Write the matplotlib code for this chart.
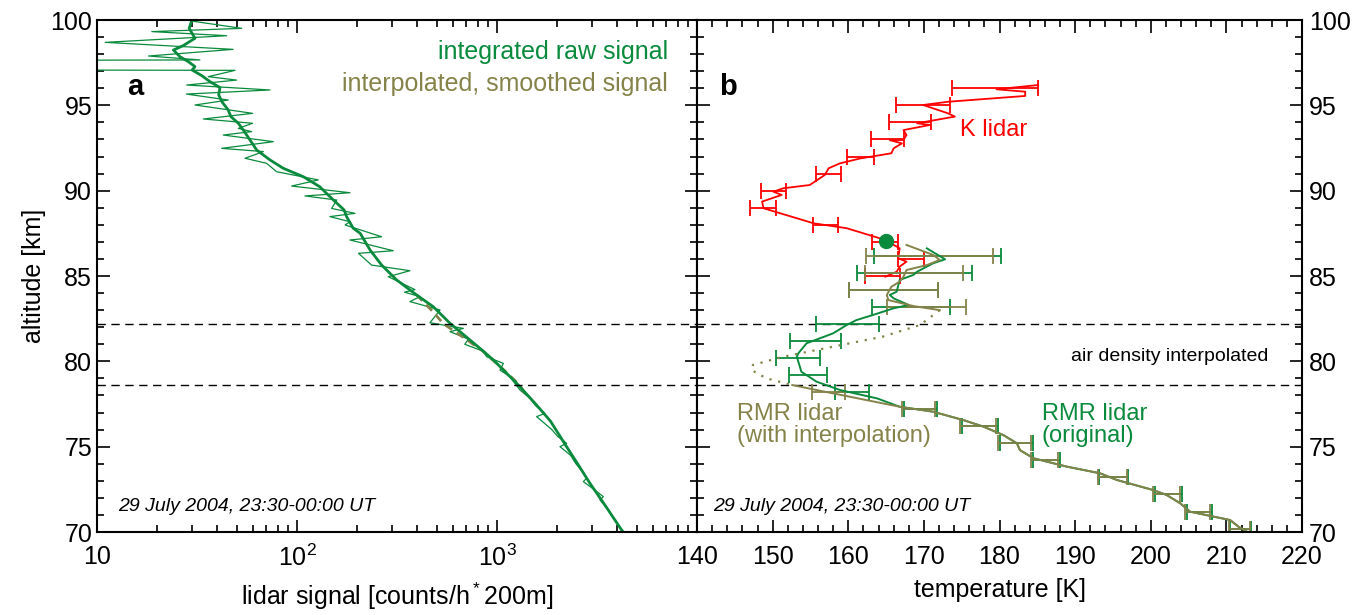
import matplotlib
matplotlib.use("Agg")
import matplotlib.pyplot as plt
from matplotlib.ticker import MultipleLocator, FixedLocator, FixedFormatter, LogLocator, NullFormatter

plt.rcParams['font.family'] = ['Liberation Sans', 'DejaVu Sans']
plt.rcParams['mathtext.default'] = 'regular'

green = '#0a8a3c'
olive = '#85834a'
red = '#ff0000'

# ---- panel a: lidar signal ----
raw_alt = [99.94, 99.51, 99.32, 99.08, 98.69, 98.28, 97.89, 97.66, 97.64, 97.07, 97.05, 96.68, 96.48, 96.19,
           95.9, 95.66, 95.31, 95.02, 94.53, 94.2, 93.95, 93.65, 93.46, 93.26, 92.87, 92.48, 92.29, 91.9,
           91.6, 91.11, 90.63, 90.27, 89.88, 89.69, 89.45, 88.96, 88.67, 88.48, 88.18, 87.99, 87.3, 87.11,
           86.48, 86.33, 85.64, 85.31, 84.96, 84.2, 84.05, 83.79, 83.5, 83.01, 82.26, 81.93, 81.74, 81.3,
           81.0, 80.6, 80.27, 79.88, 79.49, 79.1, 78.7, 78.32, 77.83, 77.4, 76.95, 76.76, 76.0, 75.6, 75.2,
           75.0, 74.5, 74.0, 73.6, 73.15, 72.95, 72.5, 72.07, 71.88, 71.3, 71.0, 70.5, 70.12, 70.0]
raw_sig = [29.7, 52.9, 18.8, 44.5, 11.0, 47.9, 18.1, 32.7, 5, 5, 49, 36, 49.9, 28.1,
           73.3, 28, 45.3, 30.9, 60, 34, 60, 50.9, 59.3, 42.8, 76.2, 42, 67.9, 55,
           70.5, 79.1, 127.8, 94, 184, 109.6, 158, 149, 195, 146, 184, 174, 265, 184,
           303, 203, 236, 367, 286, 389, 345, 412, 367, 519, 462, 679, 582, 720,
           690, 850, 888, 1076, 1035, 1161, 1230, 1303, 1462, 1560, 1738, 1578, 1880, 2010, 2228,
           2065, 2330, 2480, 2650, 2803, 2703, 3050, 3403, 3273, 3600, 3720, 3980, 4197, 4280]

smooth_alt = [100.0, 99.94, 99.51, 98.93, 98.5, 98.24, 97.85, 97.56, 97.27, 97.07, 96.74, 96.39, 96.04,
              95.61, 95.18, 94.73, 94.34, 93.95, 93.55, 92.97, 92.38, 91.8, 91.31, 90.82, 90.23, 89.55,
              88.87, 88.48, 87.8, 87.5, 86.52, 85.64, 84.77, 83.89, 83.2, 82.23, 80.76, 80.08, 78.61,
              77.5, 76.5, 75.0, 73.9, 72.85, 71.5, 70.12, 70.0]
smooth_sig = [30.5, 29.7, 28.9, 30.9, 27, 24.1, 26, 28.6, 30.9, 29.9, 33.4, 36.7, 41.2,
              40.6, 42.3, 45.3, 46.7, 50.9, 53.9, 58.2, 62.9, 73.3, 85.4, 107.5, 130, 149,
              172, 177, 191, 207, 232, 265, 315, 396, 480, 582, 822, 959, 1279,
              1560, 1850, 2228, 2560, 2917, 3500, 4197, 4280]

interp_alt = [83.9, 83.0, 82.2, 81.4, 80.6, 79.5, 78.6, 78.0]
interp_sig = [396, 470, 540, 680, 850, 1080, 1300, 1400]

# ---- panel b: temperatures ----
k_alt = [96.19, 95.94, 95.8, 95.55, 95.21, 95.02, 94.53, 94.34, 93.95, 93.85, 93.55, 93.26, 92.97, 92.96,
         92.77, 92.48, 92.19, 91.89, 91.6, 91.31, 90.92, 90.33, 90.14, 89.94, 89.75, 89.36, 88.97, 88.09,
         87.8, 87.11, 86.62, 86.04, 85.84, 85.55, 85.25, 84.96]
k_temp = [185.1, 179.6, 183.4, 183.4, 173.2, 169.9, 173.2, 174.1, 169.1, 170.8, 167.3, 167.7, 167.3, 165.5,
          167.1, 166.0, 165.7, 161.6, 158.9, 157.4, 156.9, 154.9, 151.4, 150.1, 151.2, 148.6, 148.8, 155.4,
          159.8, 164.9, 166.8, 166.6, 167.7, 166.8, 166.4, 164.9]
k_err_alt = [96, 95, 94, 93, 92, 91, 90, 89, 88, 87, 86, 85]
k_err_temp = [179.4, 169.9, 168.2, 165.2, 161.6, 157.4, 150.1, 148.7, 157.0, 164.9, 168.3, 164.5]
k_err = [5.7, 3.6, 2.8, 2.2, 1.8, 1.65, 1.7, 1.7, 1.6, 1.7, 1.75, 2.3]

low_alt = [78.61, 78.32, 77.73, 77.34, 77.05, 76.56, 76.17, 75.68, 75.2, 74.8, 74.32, 73.83, 73.44, 73.05,
           72.46, 72.17, 71.68, 71.19, 70.7, 70.31, 70.02]
low_temp = [152.6, 155.8, 162.4, 166.8, 171.2, 175.2, 177.9, 180.5, 182.3, 182.7, 184.5, 188.9, 193.3, 195.5,
            200.3, 202.1, 203.9, 205.2, 210.5, 211.6, 212.7]

rmr_alt = [86.62, 85.98, 85.74, 85.25, 85.06, 84.77, 84.08, 83.89, 83.69, 83.3, 83.11, 82.72, 82.42, 82.13,
           81.64, 81.06, 80.47, 80.27, 79.39, 78.81, 78.32, 77.83, 77.34]
rmr_temp = [170.4, 172.8, 171.2, 169.1, 168.6, 166.8, 166.4, 165.5, 166.0, 168.0, 166.0, 163.3, 161.1, 159.8,
            158.0, 154.5, 153.4, 153.2, 153.8, 155.8, 158.9, 163.8, 166.8]

rmri_alt = [86.82, 86.23, 85.94, 85.64, 85.35, 84.96, 84.67, 84.37, 83.89, 83.59, 83.24, 83.0]
rmri_temp = [167.7, 171.25, 172.1, 170.4, 167.7, 167.3, 166.8, 165.7, 165.1, 165.3, 168.6, 172.1]
dens_alt = [83.0, 82.13, 81.45, 80.86, 80.27, 79.79, 79.49, 79.0, 78.61]
dens_temp = [172.1, 169.5, 164.6, 158.0, 151.4, 147.4, 147.2, 149.2, 152.6]

rmr_err_alt = [86.2, 85.2, 84.2, 83.2, 82.2, 81.2, 80.2, 79.2, 78.2, 77.2, 76.2, 75.2, 74.2, 73.2, 72.2, 71.2, 70.2]
rmr_err_temp = [171.8, 168.7, 166.0, 168.3, 159.9, 155.7, 153.4, 154.7, 160.5, 169.6, 177.4, 182.2, 186.2,
                195.1, 202.3, 206.4, 211.9]
rmr_err = [8.4, 7.6, 5.9, 5.2, 4.2, 3.4, 2.9, 2.5, 2.2, 2.2, 2.4, 2.2, 1.8, 1.9, 1.8, 1.65, 1.4]

rmri_err_alt = [86.2, 85.2, 84.2, 83.2, 78.2, 77.2, 76.2, 75.2, 74.2, 73.2, 72.2, 71.2, 70.2]
rmri_err_temp = [170.7, 168.7, 166.0, 170.35, 157.4, 169.3, 177.2, 182.0, 186.0, 194.9, 202.1, 206.2, 211.7]
rmri_err = [8.4, 6.5, 5.9, 5.25, 2.2, 2.2, 2.4, 2.2, 1.8, 1.9, 1.8, 1.65, 1.4]

dot_temp = [165.0]
dot_alt = [87.05]

dash_alts = [82.2, 78.6]

fig = plt.figure(figsize=(13.53, 6.15), dpi=100)
b0 = 1 - 532 / 615
h0 = 512 / 615
ax1 = fig.add_axes([97 / 1353, b0, 600 / 1353, h0])
ax2 = fig.add_axes([697 / 1353, b0, 605 / 1353, h0])

fs = 18

# panel a
ax1.plot(raw_sig, raw_alt, color=green, lw=0.9)
ax1.plot(interp_sig, interp_alt, color=olive, lw=2, ls=(0, (3, 2)))
ax1.plot(smooth_sig, smooth_alt, color=green, lw=2)
for a in dash_alts:
    ax1.axhline(a, color='k', lw=1, ls=(0, (6, 4)))
ax1.set_xscale('log')
ax1.set_xlim(10, 1e4)
ax1.set_ylim(70, 100)
ax1.xaxis.set_major_locator(FixedLocator([10, 100, 1000, 10000]))
ax1.xaxis.set_major_formatter(FixedFormatter(['10', '$10^2$', '$10^3$', '']))
ax1.xaxis.set_minor_locator(LogLocator(base=10, subs=range(2, 10)))
ax1.xaxis.set_minor_formatter(NullFormatter())
ax1.yaxis.set_major_locator(MultipleLocator(5))
ax1.yaxis.set_minor_locator(MultipleLocator(1))
ax1.set_xlabel('lidar signal [counts/h$^*$200m]', fontsize=fs, labelpad=7)
ax1.set_ylabel('altitude [km]', fontsize=fs, labelpad=3)
ax1.text(0.063, 0.87, 'a', transform=ax1.transAxes, fontsize=21, fontweight='bold', ha='center', va='center')
ax1.text(0.952, 0.9375, 'integrated raw signal', transform=ax1.transAxes, fontsize=fs, color=green,
         ha='right', va='center')
ax1.text(0.952, 0.875, 'interpolated, smoothed signal', transform=ax1.transAxes, fontsize=fs, color=olive,
         ha='right', va='center')
ax1.text(0.035, 0.049, '29 July 2004, 23:30-00:00 UT', transform=ax1.transAxes, fontsize=14,
         style='italic', ha='left', va='center')

# panel b
for a in dash_alts:
    ax2.axhline(a, color='k', lw=1, ls=(0, (6, 4)))
ax2.plot(k_temp, k_alt, color=red, lw=1.3)
ax2.errorbar(k_err_temp, k_err_alt, xerr=k_err, fmt='none', ecolor=red, elinewidth=1.3, capsize=6, capthick=1.3)
ax2.errorbar(rmr_err_temp, rmr_err_alt, xerr=rmr_err, fmt='none', ecolor=green, elinewidth=1.3, capsize=6,
             capthick=1.3)
ax2.errorbar(rmri_err_temp, rmri_err_alt, xerr=rmri_err, fmt='none', ecolor=olive, elinewidth=1.3, capsize=6,
             capthick=1.3)
ax2.plot(rmr_temp + low_temp[4:], rmr_alt + low_alt[4:], color=green, lw=1.4)
ax2.plot(rmri_temp, rmri_alt, color=olive, lw=1.4)
ax2.plot(dens_temp, dens_alt, color=olive, lw=1.6, ls=(0, (1, 3)))
ax2.plot(low_temp, low_alt, color=olive, lw=1.4)
ax2.plot(dot_temp, dot_alt, 'o', color=green, ms=10)
ax2.set_xlim(140, 220)
ax2.set_ylim(70, 100)
ax2.xaxis.set_major_locator(MultipleLocator(10))
ax2.xaxis.set_minor_locator(MultipleLocator(2))
ax2.yaxis.set_major_locator(MultipleLocator(5))
ax2.yaxis.set_minor_locator(MultipleLocator(1))
ax2.set_xlabel('temperature [K]', fontsize=fs, labelpad=7)
ax2.text(0.051, 0.87, 'b', transform=ax2.transAxes, fontsize=21, fontweight='bold', ha='center', va='center')
ax2.text(174.8, 93.55, 'K lidar', color=red, fontsize=17, ha='left', va='center')
ax2.text(215.5, 80.31, 'air density interpolated', color='k', fontsize=14, ha='right', va='center')
ax2.text(145.3, 76.27, 'RMR lidar\n(with interpolation)', color=olive, fontsize=17, ha='left', va='center',
         linespacing=1.05)
ax2.text(185.6, 76.27, 'RMR lidar\n(original)', color=green, fontsize=17, ha='left', va='center',
         linespacing=1.05)
ax2.text(0.026, 0.049, '29 July 2004, 23:30-00:00 UT', transform=ax2.transAxes, fontsize=14,
         style='italic', ha='left', va='center')

for ax in (ax1, ax2):
    ax.tick_params(which='both', direction='in', top=True, bottom=True, left=True, right=True,
                   labelsize=fs, width=1.2)
    ax.tick_params(which='major', length=9)
    ax.tick_params(which='minor', length=5)
    for s in ax.spines.values():
        s.set_linewidth(1.5)
ax2.tick_params(labelleft=False, labelright=True)
ax2.tick_params(axis='y', pad=5)
ax1.tick_params(axis='x', pad=9)
ax2.tick_params(axis='x', pad=9)

fig.savefig('out.png', dpi=100)
